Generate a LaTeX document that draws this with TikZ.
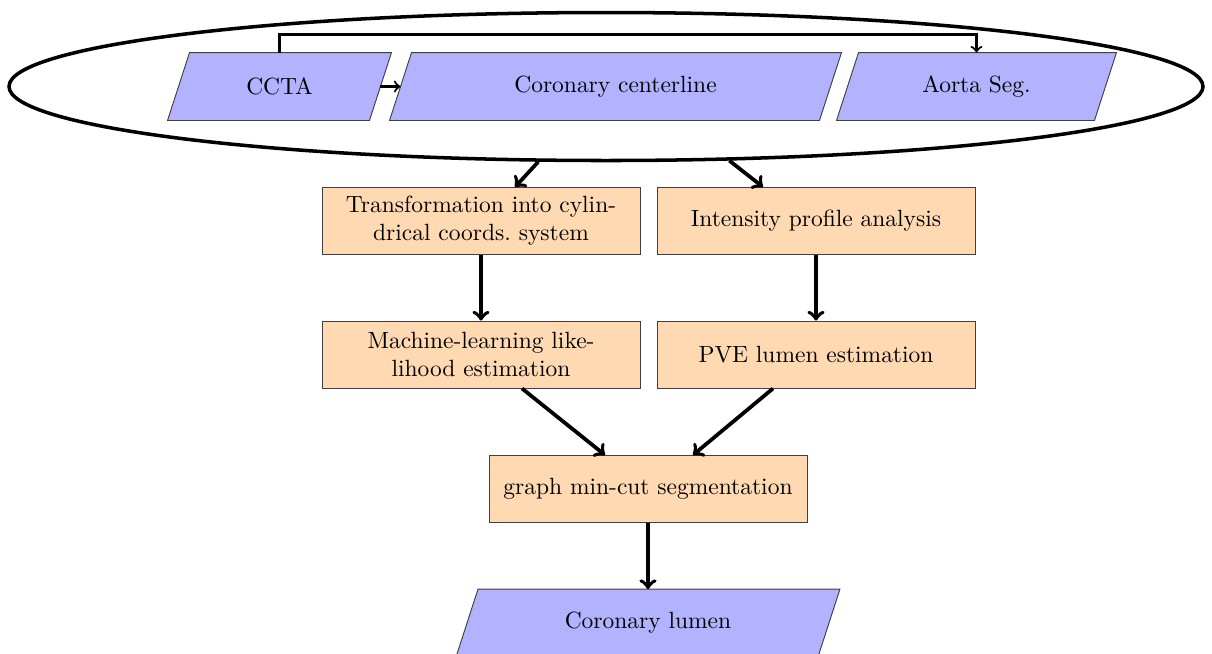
\documentclass[tikz,border=0pt]{standalone}
\usetikzlibrary{shapes.geometric,backgrounds}
\newcommand\pxu{0.426pt}
\begin{document}
\begin{tikzpicture}[x=0.426pt,y=-0.426pt,
  procbox/.style={draw=black!75, fill=orange!30, minimum width=318*\pxu, minimum height=67*\pxu, align=center, inner sep=2pt},
  iobox/.style={minimum height=67*\pxu, inner sep=0pt},
  paraf/.style={draw=black!75, fill=blue!30},
  flow/.style={->, line width=1.6pt},
  thinflow/.style={->, line width=0.9pt},
  grpstyle/.style={draw, line width=1.5pt, ellipse, inner sep=0pt}]
\useasboundingbox (0,0) rectangle (1212,653);

\node[iobox, minimum width=201*\pxu] (ccta) at (279.5,86.5) {CCTA};
\node[iobox, minimum width=429*\pxu] (cl) at (615.5,86.5) {Coronary centerline};
\node[iobox, minimum width=257*\pxu] (aorta) at (976.5,86.5) {Aorta Seg.};
\node[grpstyle, minimum width=1194*\pxu, minimum height=148*\pxu] (grp) at (606,86.5) {};

\node[procbox] (b1) at (481,221) {Transformation into cylin-\\drical coords.\ system};
\node[procbox] (b2) at (816,221) {Intensity profile analysis};
\node[procbox] (b3) at (481,354.5) {Machine-learning like-\\lihood estimation};
\node[procbox] (b4) at (816,354.5) {PVE lumen estimation};
\node[procbox] (b5) at (648,489) {graph min-cut segmentation};
\node[iobox, minimum width=361*\pxu] (lumen) at (648,623) {Coronary lumen};

\begin{scope}[on background layer]
\foreach \n in {ccta,cl,aorta,lumen}
  \draw[paraf] ([xshift=11*\pxu]\n.north west) -- ([xshift=11*\pxu]\n.north east)
    -- ([xshift=-11*\pxu]\n.south east) -- ([xshift=-11*\pxu]\n.south west) -- cycle;
\end{scope}

\draw[thinflow] (ccta) -- (cl);
\draw[thinflow] (ccta.north) -- ++(0,-18) -| (aorta.north);
\draw[flow] (grp.228) -- ([xshift=34*\pxu]b1.north);
\draw[flow] (grp.329) -- ([xshift=-53*\pxu]b2.north);
\draw[flow] (b1) -- (b3);
\draw[flow] (b2) -- (b4);
\draw[flow] ([xshift=41*\pxu]b3.south) -- ([xshift=-43*\pxu]b5.north);
\draw[flow] ([xshift=-43*\pxu]b4.south) -- ([xshift=45*\pxu]b5.north);
\draw[flow] (b5) -- (lumen);
\end{tikzpicture}
\end{document}
